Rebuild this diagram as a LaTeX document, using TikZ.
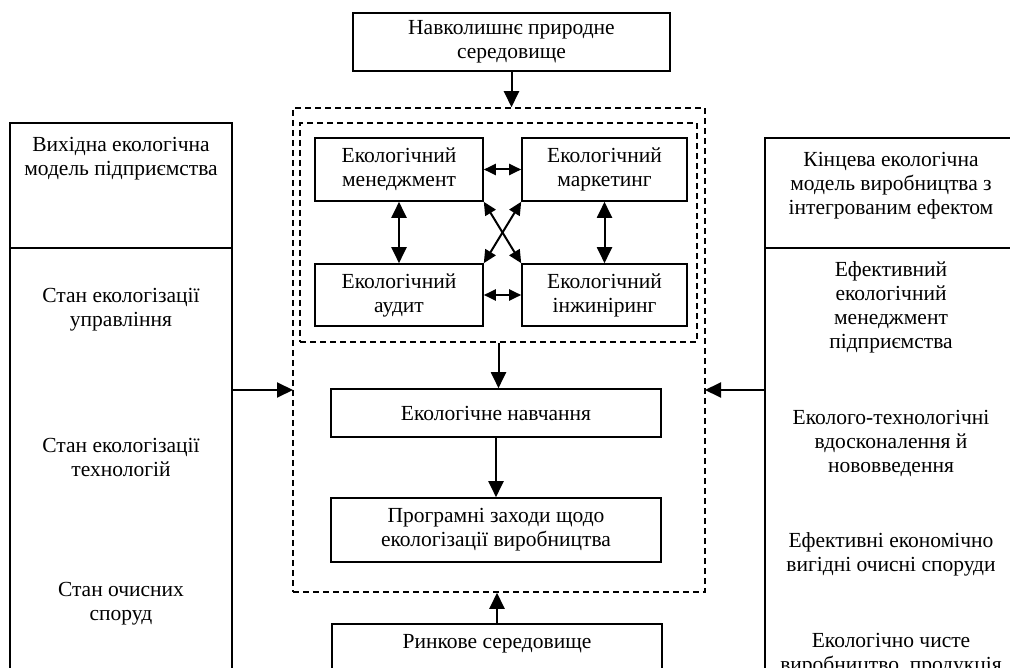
\documentclass[tikz,border=0pt]{standalone}
\usepackage{fontspec}
\setmainfont{Liberation Serif}
\usetikzlibrary{arrows.meta}
\begin{document}
\begin{tikzpicture}[x=1pt,y=-1pt,
  box/.style={draw, line width=1.6pt, inner sep=0pt, align=center, font=\fontsize{21.5}{24}\selectfont},
  txt/.style={inner sep=0pt, align=center, font=\fontsize{21.5}{24}\selectfont},
  dbox/.style={draw, line width=1.5pt, dash pattern=on 6pt off 4pt, inner sep=0pt},
  arr/.style={line width=2pt, -{Triangle[length=16pt,width=15pt]}},
  dblh/.style={line width=2pt, {Triangle[length=12pt,width=11pt]}-{Triangle[length=12pt,width=11pt]}},
  dblv/.style={line width=2pt, {Triangle[length=16pt,width=15pt]}-{Triangle[length=16pt,width=15pt]}},
  dblx/.style={line width=2pt, {Triangle[length=13pt,width=12pt]}-{Triangle[length=13pt,width=12pt]}},
]
\useasboundingbox (0,0) rectangle (1010,668);
\clip (0,0) rectangle (1010,668);

% dashed frames
\node[dbox, minimum width=412pt, minimum height=484pt] (outer) at (499,350) {};
\node[dbox, minimum width=397pt, minimum height=219pt] (inner) at (498.5,232.5) {};

% top and bottom boxes
\node[box, minimum width=317pt, minimum height=58pt] (top) at (511.5,42) {Навколишнє природне\\середовище};
\node[box, minimum width=330pt, minimum height=80pt] (rin) at (497,664) {};
\node[txt] (rint) at (497,644) {Ринкове середовище};

% inner four boxes
\node[box, minimum width=168pt, minimum height=63pt] (em) at (399,169.5) {Екологічний\\менеджмент};
\node[box, minimum width=165pt, minimum height=63pt] (mk) at (604.5,169.5) {Екологічний\\маркетинг};
\node[box, minimum width=168pt, minimum height=62pt] (aud) at (399,295) {Екологічний\\аудит};
\node[box, minimum width=165pt, minimum height=62pt] (inzh) at (604.5,295) {Екологічний\\інжиніринг};

\draw[dblh] (em.east) -- (mk.west);
\draw[dblh] (aud.east) -- (inzh.west);
\draw[dblv] (em) -- (aud);
\draw[dblv] (mk) -- (inzh);
\draw[dblx] (em.south east) -- (inzh.north west);
\draw[dblx] (mk.south west) -- (aud.north east);

% lower inner boxes
\node[box, minimum width=330pt, minimum height=48pt] (nav) at (496,413) {Екологічне навчання};
\node[box, minimum width=330pt, minimum height=64pt] (prog) at (496,530) {Програмні заходи щодо\\екологізації виробництва};

\draw[arr] (top.south) -- (top.south |- outer.north);
\draw[arr] (inner.south) -- (inner.south |- nav.north);
\draw[arr] (nav.south) -- (prog.north);
\draw[arr] (rin.north) -- (rin.north |- outer.south);

% left column
\node[box, minimum width=222pt, minimum height=125pt] (ltop) at (121,185.5) {};
\node[box, minimum width=222pt, minimum height=472pt] (lbot) at (121,484) {};
\node[txt] (l0) at (121,159) {Вихідна екологічна\\модель підприємства};
\node[txt] (l1) at (121,309.5) {Стан екологізації\\управління};
\node[txt] (l2) at (121,457) {Стан екологізації\\технологій};
\node[txt] (l3) at (121,604) {Стан очисних\\споруд};

% right column
\node[box, minimum width=252pt, minimum height=110pt] (rtop) at (891,193) {};
\node[box, minimum width=252pt, minimum height=472pt] (rbot) at (891,484) {};
\node[txt] (r0) at (891,185.5) {Кінцева екологічна\\модель виробництва з\\інтегрованим ефектом};
\node[txt] (r1) at (891,307.5) {Ефективний\\екологічний\\менеджмент\\підприємства};
\node[txt] (r2) at (891,443) {Еколого-технологічні\\вдосконалення й\\нововведення};
\node[txt] (r3) at (891,554) {Ефективні економічно\\вигідні очисні споруди};
\node[txt] (r4) at (891,654.5) {Екологічно чисте\\виробництво, продукція};

% side arrows
\coordinate (inL) at (293,390);
\coordinate (inR) at (705,390);
\draw[arr] (lbot.east |- inL) -- (inL);
\draw[arr] (rbot.west |- inR) -- (inR);
\end{tikzpicture}
\end{document}
